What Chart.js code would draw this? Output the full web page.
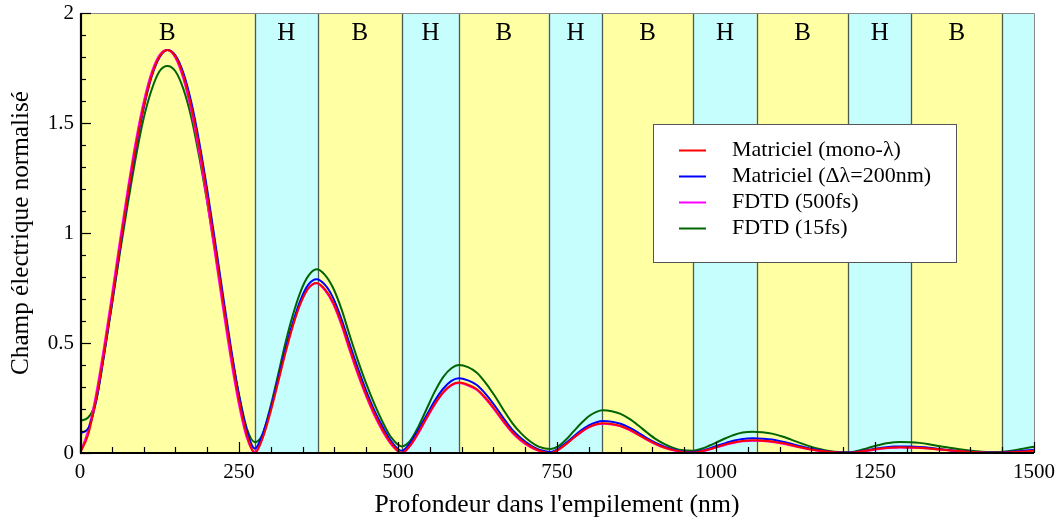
<!DOCTYPE html>
<html>
<head>
<meta charset="utf-8">
<title>Champ électrique normalisé</title>
<script src="https://cdn.jsdelivr.net/npm/chart.js@4.4.0/dist/chart.umd.min.js"></script>
<style>
  html, body { margin: 0; padding: 0; background: #fff; }
  canvas { display: block; }
</style>
</head>
<body>
<canvas id="fieldChart" width="1059" height="522"></canvas>
<script>
// --- Data ---
// Layer stack: interfaces in nm, B = bas indice, H = haut indice
const layerEdges = [0, 275, 374, 506, 596, 737, 821, 964, 1064, 1208, 1307, 1450, 1500];
const layerTypes = ['B', 'H', 'B', 'H', 'B', 'H', 'B', 'H', 'B', 'H', 'B', 'H'];
const layerLabels = ['B', 'H', 'B', 'H', 'B', 'H', 'B', 'H', 'B', 'H', 'B', ''];

// Depth samples (nm), grouped per layer
const depth = [
  0, 12.5, 25, 37.5, 50, 62.5, 75, 87.5, 100, 112.5, 125, 137.5, 150, 162.5, 175, 187.5, 200, 212.5, 225, 237.5, 250, 262.5, 275,
  287, 299, 311, 323, 335, 347, 359, 372,
  385, 398, 411, 424, 437, 450, 463, 476, 489, 506,
  519, 532, 545, 558, 571, 584, 596,
  610, 624, 638, 652, 666, 680, 694, 708, 722, 740,
  752, 764, 776, 788, 800, 812, 822,
  836, 850, 864, 878, 892, 906, 920, 934, 948, 964,
  977, 990, 1003, 1016, 1029, 1042, 1058,
  1073, 1088, 1103, 1118, 1133, 1148, 1163, 1178, 1193, 1208,
  1220, 1232, 1244, 1256, 1268, 1280, 1290,
  1305, 1320, 1335, 1350, 1365, 1380, 1395, 1410, 1425, 1440,
  1455, 1470, 1485, 1500
];

const matricielMono = [
  0, 0.081, 0.241, 0.449, 0.685, 0.931, 1.170, 1.389, 1.574, 1.715, 1.802, 1.832, 1.802, 1.715, 1.574, 1.389, 1.170, 0.931, 0.685, 0.449, 0.241, 0.081, 0,
  0.066, 0.180, 0.315, 0.454, 0.580, 0.681, 0.748, 0.773,
  0.745, 0.685, 0.59, 0.475, 0.365, 0.265, 0.178, 0.105, 0.045, 0.0,
  0.034, 0.093, 0.160, 0.224, 0.276, 0.310, 0.320,
  0.31, 0.29, 0.25, 0.20, 0.145, 0.095, 0.058, 0.030, 0.011, 0.0,
  0.015, 0.040, 0.069, 0.096, 0.118, 0.131, 0.135,
  0.132, 0.123, 0.106, 0.084, 0.061, 0.040, 0.024, 0.013, 0.005, 0.002,
  0.008, 0.017, 0.029, 0.040, 0.049, 0.055, 0.058,
  0.056, 0.0525, 0.045, 0.036, 0.026, 0.017, 0.0105, 0.0055, 0.002, 0.001,
  0.004, 0.009, 0.014, 0.019, 0.023, 0.025, 0.026,
  0.025, 0.024, 0.021, 0.017, 0.013, 0.009, 0.006, 0.0035, 0.0015, 0.001,
  0.002, 0.004, 0.007, 0.011
];

const matricielLarge = [
  0.09, 0.11, 0.23, 0.44, 0.675, 0.92, 1.16, 1.38, 1.566, 1.709, 1.798, 1.832, 1.808, 1.728, 1.594, 1.413, 1.197, 0.960, 0.714, 0.476, 0.263, 0.10, 0.02,
  0.085, 0.195, 0.33, 0.47, 0.595, 0.697, 0.765, 0.79,
  0.765, 0.705, 0.61, 0.495, 0.385, 0.283, 0.193, 0.118, 0.055, 0.01,
  0.045, 0.105, 0.172, 0.238, 0.292, 0.328, 0.34,
  0.33, 0.309, 0.268, 0.216, 0.158, 0.105, 0.066, 0.036, 0.015, 0.005,
  0.019, 0.045, 0.075, 0.103, 0.126, 0.140, 0.145,
  0.142, 0.133, 0.115, 0.092, 0.067, 0.045, 0.028, 0.015, 0.007, 0.004,
  0.01, 0.021, 0.034, 0.046, 0.057, 0.064, 0.067,
  0.065, 0.061, 0.052, 0.042, 0.031, 0.020, 0.012, 0.006, 0.003, 0.002,
  0.005, 0.010, 0.016, 0.022, 0.026, 0.029, 0.030,
  0.029, 0.027, 0.024, 0.019, 0.014, 0.0095, 0.006, 0.003, 0.002, 0.002,
  0.004, 0.007, 0.011, 0.015
];

const fdtd500 = [
  0, 0.10, 0.263, 0.476, 0.714, 0.960, 1.197, 1.413, 1.594, 1.729, 1.809, 1.832, 1.797, 1.701, 1.554, 1.365, 1.142, 0.902, 0.656, 0.422, 0.219, 0.067, 0.005,
  0.07, 0.19, 0.325, 0.462, 0.585, 0.684, 0.749, 0.772,
  0.74, 0.678, 0.582, 0.466, 0.356, 0.257, 0.170, 0.098, 0.040, 0.0,
  0.032, 0.090, 0.157, 0.221, 0.273, 0.307, 0.318,
  0.307, 0.286, 0.245, 0.195, 0.140, 0.091, 0.054, 0.027, 0.009, 0.0,
  0.014, 0.039, 0.068, 0.094, 0.116, 0.129, 0.133,
  0.130, 0.121, 0.104, 0.082, 0.059, 0.038, 0.022, 0.011, 0.004, 0.001,
  0.007, 0.016, 0.027, 0.038, 0.047, 0.053, 0.056,
  0.054, 0.050, 0.043, 0.034, 0.025, 0.016, 0.009, 0.004, 0.0015, 0.0,
  0.003, 0.0075, 0.013, 0.018, 0.022, 0.024, 0.025,
  0.024, 0.023, 0.020, 0.016, 0.012, 0.008, 0.005, 0.003, 0.001, 0.0005,
  0.0015, 0.0035, 0.0065, 0.01
];

const fdtd15 = [
  0.147, 0.16, 0.235, 0.44, 0.67, 0.905, 1.13, 1.34, 1.52, 1.65, 1.735, 1.759, 1.735, 1.655, 1.525, 1.345, 1.14, 0.915, 0.685, 0.46, 0.265, 0.11, 0.049,
  0.085, 0.205, 0.35, 0.50, 0.63, 0.735, 0.805, 0.835,
  0.81, 0.75, 0.655, 0.535, 0.42, 0.315, 0.222, 0.14, 0.072, 0.03,
  0.055, 0.12, 0.20, 0.28, 0.345, 0.385, 0.40,
  0.39, 0.365, 0.318, 0.26, 0.195, 0.135, 0.088, 0.052, 0.028, 0.018,
  0.03, 0.06, 0.098, 0.135, 0.167, 0.187, 0.194,
  0.190, 0.178, 0.155, 0.125, 0.092, 0.062, 0.039, 0.022, 0.012, 0.01,
  0.019, 0.034, 0.051, 0.068, 0.083, 0.093, 0.097,
  0.094, 0.088, 0.076, 0.061, 0.045, 0.030, 0.018, 0.009, 0.004, 0.003,
  0.008, 0.017, 0.027, 0.036, 0.044, 0.049, 0.05,
  0.049, 0.046, 0.040, 0.032, 0.025, 0.018, 0.012, 0.008, 0.005, 0.004,
  0.007, 0.013, 0.021, 0.029
];

const seriesLabels = ['Matriciel (mono-λ)', 'Matriciel (Δλ=200nm)', 'FDTD (500fs)', 'FDTD (15fs)'];
const seriesColors = ['#ff0000', '#0000ff', '#ff00ff', '#006400'];

const xTicks = [0, 250, 500, 750, 1000, 1250, 1500];
const yTicks = [0, 0.5, 1, 1.5, 2];
const xMinorStep = 50;
const yMinorStep = 0.1;

// --- Styles ---
const SERIF = '"Liberation Serif", "Times New Roman", Times, serif';
const BAND_B = '#ffffa3';
const BAND_H = '#c6fdfd';

function toPoints(values) {
  return values.map((v, i) => ({ x: depth[i], y: v }));
}

function buildDatasets() {
  const all = [matricielMono, matricielLarge, fdtd500, fdtd15];
  return all.map((vals, i) => ({
    label: seriesLabels[i],
    data: toPoints(vals),
    borderColor: seriesColors[i],
    backgroundColor: seriesColors[i],
    borderWidth: 2,
    pointRadius: 0,
    fill: false,
    cubicInterpolationMode: 'monotone'
  }));
}

// --- Plugins ---
const layersPlugin = {
  id: 'layers',
  beforeDatasetsDraw(chart) {
    const { ctx, chartArea: area, scales: { x } } = chart;
    ctx.save();
    for (let i = 0; i < layerTypes.length; i++) {
      const x0 = x.getPixelForValue(layerEdges[i]);
      const x1 = x.getPixelForValue(layerEdges[i + 1]);
      ctx.fillStyle = layerTypes[i] === 'B' ? BAND_B : BAND_H;
      ctx.fillRect(x0, area.top, x1 - x0, area.bottom - area.top);
    }
    ctx.strokeStyle = '#4f5a4f';
    ctx.lineWidth = 1.3;
    for (let i = 1; i < layerEdges.length - 1; i++) {
      const px = Math.round(x.getPixelForValue(layerEdges[i])) + 0.5;
      ctx.beginPath();
      ctx.moveTo(px, area.top);
      ctx.lineTo(px, area.bottom);
      ctx.stroke();
    }
    ctx.fillStyle = '#000';
    ctx.font = '25px ' + SERIF;
    ctx.textAlign = 'center';
    ctx.textBaseline = 'middle';
    for (let i = 0; i < layerLabels.length; i++) {
      if (!layerLabels[i]) continue;
      const cx = x.getPixelForValue((layerEdges[i] + layerEdges[i + 1]) / 2);
      ctx.fillText(layerLabels[i], cx, area.top + 20);
    }
    ctx.restore();
  }
};

const framePlugin = {
  id: 'frame',
  afterDatasetsDraw(chart) {
    const { ctx, chartArea: area, scales: { x, y } } = chart;
    ctx.save();

    // thin top / right border
    ctx.strokeStyle = '#8a8a8a';
    ctx.lineWidth = 1;
    ctx.beginPath();
    ctx.moveTo(area.left, area.top + 0.5);
    ctx.lineTo(area.right + 0.5, area.top + 0.5);
    ctx.lineTo(area.right + 0.5, area.bottom);
    ctx.stroke();

    // inward ticks
    ctx.strokeStyle = '#000';
    ctx.lineWidth = 1.2;
    const nx = Math.round((x.max - x.min) / xMinorStep);
    for (let i = 0; i <= nx; i++) {
      const v = x.min + i * xMinorStep;
      const px = Math.round(x.getPixelForValue(v)) + 0.5;
      const len = xTicks.includes(v) ? 11 : 6;
      ctx.beginPath();
      ctx.moveTo(px, area.bottom);
      ctx.lineTo(px, area.bottom - len);
      ctx.stroke();
    }
    const ny = Math.round((y.max - y.min) / yMinorStep);
    for (let i = 0; i <= ny; i++) {
      const v = +(y.min + i * yMinorStep).toFixed(2);
      const py = Math.round(y.getPixelForValue(v)) + 0.5;
      const len = yTicks.includes(v) ? 11 : 6;
      ctx.beginPath();
      ctx.moveTo(area.left, py);
      ctx.lineTo(area.left + len, py);
      ctx.stroke();
    }

    // main axes
    ctx.lineWidth = 2.2;
    ctx.beginPath();
    ctx.moveTo(area.left + 1, area.top);
    ctx.lineTo(area.left + 1, area.bottom);
    ctx.lineTo(area.right, area.bottom);
    ctx.stroke();

    drawLegend(ctx, chart);
    ctx.restore();
  }
};

function drawLegend(ctx, chart) {
  const box = { left: 653, top: 124, width: 303, height: 138 };
  ctx.fillStyle = '#fff';
  ctx.fillRect(box.left, box.top, box.width, box.height);
  ctx.strokeStyle = '#555';
  ctx.lineWidth = 1;
  ctx.strokeRect(box.left + 0.5, box.top + 0.5, box.width, box.height);

  ctx.font = '22px ' + SERIF;
  ctx.textAlign = 'left';
  ctx.textBaseline = 'middle';
  chart.data.datasets.forEach((ds, i) => {
    const cy = box.top + 26 + i * 26;
    ctx.strokeStyle = ds.borderColor;
    ctx.lineWidth = 2;
    ctx.beginPath();
    ctx.moveTo(box.left + 26, cy + 0.5);
    ctx.lineTo(box.left + 53, cy + 0.5);
    ctx.stroke();
    ctx.fillStyle = '#000';
    ctx.fillText(ds.label, box.left + 79, cy);
  });
}

// keep the plot box exactly where the layout padding puts it
function noLabelPadding(s) {
  s.paddingLeft = 0;
  s.paddingRight = 0;
  s.paddingTop = 0;
  s.paddingBottom = 0;
}

// --- Chart ---
const ctx = document.getElementById('fieldChart').getContext('2d');

new Chart(ctx, {
  type: 'line',
  data: { datasets: buildDatasets() },
  options: {
    responsive: false,
    animation: false,
    events: [],
    layout: { padding: { top: 13, right: 25, left: 0, bottom: 0 } },
    plugins: {
      legend: { display: false },
      tooltip: { enabled: false }
    },
    scales: {
      x: {
        type: 'linear',
        min: 0,
        max: 1500,
        afterBuildTicks: (s) => { s.ticks = xTicks.map(v => ({ value: v })); },
        afterFit: (s) => { s.height = 69; noLabelPadding(s); },
        grid: { display: false, drawTicks: false },
        border: { display: false },
        ticks: {
          color: '#000',
          font: { family: SERIF, size: 21 },
          padding: 7,
          maxRotation: 0,
          autoSkip: false,
          callback: (v) => String(v)
        },
        title: {
          display: true,
          text: "Profondeur dans l'empilement (nm)",
          color: '#000',
          font: { family: SERIF, size: 25.7 },
          padding: { top: 0, bottom: 1 }
        }
      },
      y: {
        type: 'linear',
        min: 0,
        max: 2,
        afterBuildTicks: (s) => { s.ticks = yTicks.map(v => ({ value: v })); },
        afterFit: (s) => { s.width = 80; noLabelPadding(s); },
        grid: { display: false, drawTicks: false },
        border: { display: false },
        ticks: {
          color: '#000',
          font: { family: SERIF, size: 21 },
          padding: 6,
          callback: (v) => String(v)
        },
        title: {
          display: true,
          text: 'Champ électrique normalisé',
          color: '#000',
          font: { family: SERIF, size: 25.2 },
          padding: { top: 6, bottom: 0 }
        }
      }
    }
  },
  plugins: [layersPlugin, framePlugin]
});
</script>
</body>
</html>
